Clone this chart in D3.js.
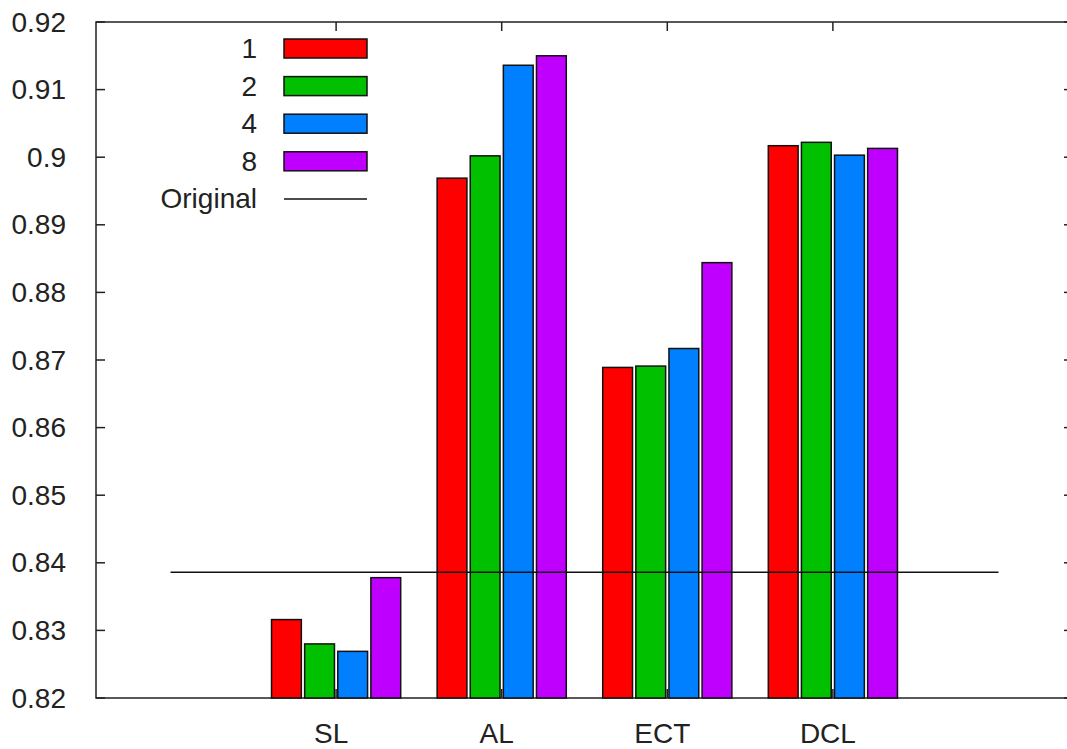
<!DOCTYPE html>
<html>
<head>
<meta charset="utf-8">
<script src="https://cdn.jsdelivr.net/npm/d3@7"></script>
<style>
  html, body { margin: 0; padding: 0; background: #fff; }
  svg { display: block; font-family: "Liberation Sans", Arial, sans-serif; }
</style>
</head>
<body>
<svg id="chart" width="1067" height="749"></svg>
<script>
// Categories and per-setting accuracy values
const categories = ["SL", "AL", "ECT", "DCL"];
const seriesNames = ["1", "2", "4", "8"];
const series1 = [0.8316, 0.8969, 0.8689, 0.9017];
const series2 = [0.8280, 0.9002, 0.8691, 0.9022];
const series4 = [0.8269, 0.9136, 0.8717, 0.9003];
const series8 = [0.8378, 0.9150, 0.8844, 0.9013];
const originalValue = 0.8386;
const yTicks = [0.82, 0.83, 0.84, 0.85, 0.86, 0.87, 0.88, 0.89, 0.9, 0.91, 0.92];
const colors = ["#ff0000", "#00c000", "#0080ff", "#c000ff"];

const allSeries = [series1, series2, series4, series8];

const svg = d3.select("#chart");
const plotL = 96, plotR = 1073, plotT = 22, plotB = 698;

const x = d3.scaleLinear().domain([-1.45, 4.45]).range([plotL, plotR]);
const y = d3.scaleLinear().domain([0.82, 0.92]).range([plotB, plotT]);

const slot = 0.2, barW = 0.18;
const tickLen = 9;
const fontSize = 28;

// Frame
svg.append("rect")
  .attr("x", plotL).attr("y", plotT)
  .attr("width", plotR - plotL).attr("height", plotB - plotT)
  .attr("fill", "none").attr("stroke", "#222").attr("stroke-width", 1.5);

// Y ticks (inward, mirrored on right) and labels
const yg = svg.append("g");
yTicks.forEach(t => {
  yg.append("line").attr("x1", plotL).attr("x2", plotL + tickLen)
    .attr("y1", y(t)).attr("y2", y(t)).attr("stroke", "#222").attr("stroke-width", 1.5);
  yg.append("line").attr("x1", plotR - tickLen).attr("x2", plotR)
    .attr("y1", y(t)).attr("y2", y(t)).attr("stroke", "#222").attr("stroke-width", 1.5);
  yg.append("text")
    .attr("x", 66).attr("y", y(t))
    .attr("text-anchor", "end").attr("dominant-baseline", "central")
    .attr("font-size", fontSize).attr("fill", "#222")
    .text(String(+t.toFixed(2)));
});

// X ticks (inward, top and bottom) and category labels
const xg = svg.append("g");
categories.forEach((c, i) => {
  xg.append("line").attr("x1", x(i)).attr("x2", x(i))
    .attr("y1", plotT).attr("y2", plotT + tickLen).attr("stroke", "#222").attr("stroke-width", 1.5);
  xg.append("line").attr("x1", x(i)).attr("x2", x(i))
    .attr("y1", plotB).attr("y2", plotB - tickLen).attr("stroke", "#222").attr("stroke-width", 1.5);
  xg.append("text")
    .attr("x", x(i) - 5).attr("y", 733)
    .attr("text-anchor", "middle").attr("dominant-baseline", "central")
    .attr("font-size", fontSize).attr("fill", "#222")
    .text(c);
});

// Clustered bars
allSeries.forEach((vals, s) => {
  svg.append("g").selectAll("rect")
    .data(vals)
    .join("rect")
    .attr("x", (d, i) => x(i + (s - 1.5) * slot - barW / 2))
    .attr("width", x(barW) - x(0))
    .attr("y", d => y(d))
    .attr("height", d => y(0.82) - y(d))
    .attr("fill", colors[s])
    .attr("stroke", "#111").attr("stroke-width", 1.5);
});

// Baseline accuracy line
svg.append("line")
  .attr("x1", x(-1)).attr("x2", x(4))
  .attr("y1", y(originalValue)).attr("y2", y(originalValue))
  .attr("stroke", "#111").attr("stroke-width", 1.5);

// Legend
const legendRows = seriesNames.concat(["Original"]);
const rowY = i => 48.5 + i * 37.6;
legendRows.forEach((name, i) => {
  svg.append("text")
    .attr("x", 257).attr("y", rowY(i))
    .attr("text-anchor", "end").attr("dominant-baseline", "central")
    .attr("font-size", fontSize).attr("fill", "#222")
    .text(name);
  if (i < seriesNames.length) {
    svg.append("rect")
      .attr("x", 284).attr("y", rowY(i) - 9.5)
      .attr("width", 83).attr("height", 19)
      .attr("fill", colors[i]).attr("stroke", "#111").attr("stroke-width", 1.5);
  } else {
    svg.append("line")
      .attr("x1", 284).attr("x2", 367)
      .attr("y1", rowY(i)).attr("y2", rowY(i))
      .attr("stroke", "#111").attr("stroke-width", 1.5);
  }
});
</script>
</body>
</html>
